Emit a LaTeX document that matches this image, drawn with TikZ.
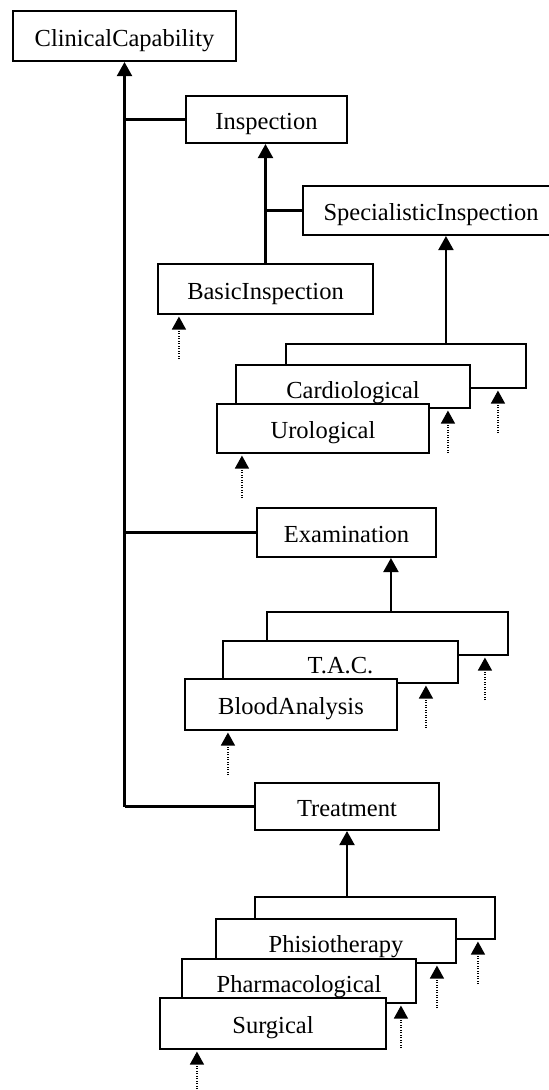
\documentclass[tikz,border=0pt]{standalone}
\usepackage{fontspec}
\setmainfont{Liberation Serif}
\usetikzlibrary{arrows.meta}
\tikzset{
	box/.style={draw,fill=white,line width=2.1pt,inner sep=0pt,text height=20pt,text depth=0pt,font=\fontsize{24.5}{29}\selectfont},
	midbox/.style={box,text height=23pt}, % text sits lower in the half hidden boxes
	link/.style={line width=2.1pt},
	inh/.style={link,-{Triangle[width=15pt,length=14pt]}},
	dep/.style={line width=1.4pt,dash pattern=on 1pt off 1.5pt,-{Triangle[width=14pt,length=13pt]},shorten >=1.5pt},
}

\begin{document}
\begin{tikzpicture}[x=1pt,y=-1pt]
	\useasboundingbox (0,0) rectangle (549,1090);
	
	% root and the three main capabilities
	\node[box,minimum width=223pt,minimum height=50pt] (cc) at (124.5,36) {ClinicalCapability};
	\node[box,minimum width=161pt,minimum height=47pt] (insp) at (266.5,119.5) {Inspection};
	\node[box,minimum width=179pt,minimum height=49pt] (exam) at (346.5,532.5) {Examination};
	\node[box,minimum width=184pt,minimum height=47pt] (treat) at (347,806.5) {Treatment};
	
	% inspection subtree
	\node[box,minimum width=256pt,minimum height=49pt] (spec) at (431,210.5) {SpecialisticInspection};
	\node[box,minimum width=215pt,minimum height=50pt] (basic) at (265.5,289) {BasicInspection};
	\node[box,minimum width=240pt,minimum height=44pt] (sback) at (406,366) {};
	\node[midbox,minimum width=234pt,minimum height=43pt] (card) at (353,386.5) {Cardiological};
	\node[box,minimum width=212pt,minimum height=49pt] (uro) at (323,428.5) {Urological};
	
	% examination stack
	\node[box,minimum width=241pt,minimum height=43pt] (eback) at (387.5,633.5) {};
	\node[midbox,minimum width=235pt,minimum height=42pt] (tac) at (340.5,662) {T.A.C.};
	\node[box,minimum width=212pt,minimum height=51pt] (blood) at (291,704.5) {BloodAnalysis};
	
	% treatment stack
	\node[box,minimum width=240pt,minimum height=42pt] (tback) at (375,918) {};
	\node[midbox,minimum width=240pt,minimum height=44pt] (phisio) at (336,941) {Phisiotherapy};
	\node[midbox,minimum width=234pt,minimum height=44pt] (pharm) at (299,981) {Pharmacological};
	\node[box,minimum width=226pt,minimum height=51pt] (surg) at (273,1023.5) {Surgical};
	
	% trunk to the root
	\draw[inh] (treat.west -| cc.south) -- (cc.south);
	\draw[link] (insp.west) -- (insp.west -| cc.south);
	\draw[link] (exam.west) -- (exam.west -| cc.south);
	\draw[link] (treat.west) -- (treat.west -| cc.south);
	
	% inspection branches
	\draw[inh] (basic.north) -- (basic.north |- insp.south);
	\draw[link] (spec.west) -- (spec.west -| basic.north);
	
	% stacks up to their parents
	\coordinate (sjoin) at ([xshift=161pt]sback.north west);
	\draw[inh] (sjoin) -- (sjoin |- spec.south);
	\coordinate (ejoin) at ([xshift=125pt]eback.north west);
	\draw[inh] (ejoin) -- (ejoin |- exam.south);
	\draw[inh] (tback.north -| treat.south) -- (treat.south);
	
	% dotted arrows under the leaves
	\foreach \n/\dx in {basic/22,uro/26,card/213,sback/213,blood/44,tac/204,eback/219,surg/38,pharm/220,phisio/222,tback/224}
		\draw[dep] ([xshift=\dx pt,yshift=-44pt]\n.south west) -- ([xshift=\dx pt]\n.south west);
	
\end{tikzpicture}
\end{document}
